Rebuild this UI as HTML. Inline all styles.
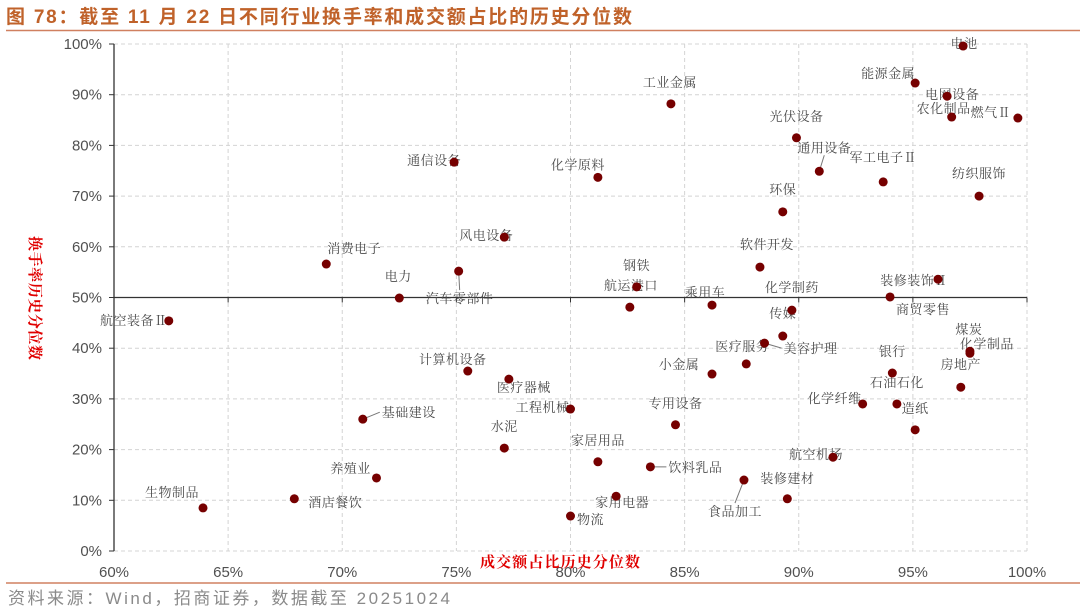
<!DOCTYPE html>
<html><head><meta charset="utf-8"><style>
body{margin:0;background:#fff;width:1080px;height:613px;overflow:hidden}
svg{display:block}
</style></head><body>
<svg id="c" width="1080" height="613" xmlns="http://www.w3.org/2000/svg">
<text x="6" y="23" fill="#c0622a" font-family="'Liberation Sans','Noto Sans CJK SC',sans-serif" font-size="19" font-weight="bold" textLength="626" lengthAdjust="spacing">图 78：截至 11 月 22 日不同行业换手率和成交额占比的历史分位数</text>
<line x1="6" y1="30.5" x2="1080" y2="30.5" stroke="#d08060" stroke-width="1.5"/>
<line x1="6" y1="583" x2="1080" y2="583" stroke="#d08060" stroke-width="1.5"/>
<text x="8" y="604" fill="#8a8a8a" font-family="'Liberation Sans','Noto Sans CJK SC',sans-serif" font-size="17" textLength="442" lengthAdjust="spacing">资料来源：Wind，招商证券，数据截至 20251024</text>
<g id="grid"></g><g id="axes"></g><g id="leaders"></g><g id="labels"></g><g id="dots"></g>
<text x="480" y="567" fill="#e00000" font-family="'Noto Serif CJK SC',serif" font-size="15" font-weight="bold" textLength="160" lengthAdjust="spacing">成交额占比历史分位数</text>
<text transform="translate(30,236) rotate(90)" fill="#e00000" font-family="'Noto Serif CJK SC',serif" font-size="15" font-weight="bold" textLength="124" lengthAdjust="spacing">换手率历史分位数</text>
</svg>
<script>
const names=["通信设备","风电设备","消费电子","电力","汽车零部件","电池","能源金属","电网设备","农化制品","燃气Ⅱ","工业金属","光伏设备","通用设备","军工电子Ⅱ","纺织服饰","化学原料","环保","软件开发","钢铁","航运港口","装修装饰Ⅱ","商贸零售","乘用车","化学制药","传媒","航空装备Ⅱ","美容护理","医疗服务","小金属","煤炭","化学制品","银行","房地产","化学纤维","石油石化","造纸","工程机械","专用设备","家居用品","饮料乳品","航空机场","装修建材","食品加工","家用电器","物流","计算机设备","医疗器械","基础建设","水泥","养殖业","酒店餐饮","生物制品"];
const amountPct=[74.9,77.1,69.3,72.5,75.1,97.2,95.1,96.5,96.7,99.6,84.4,89.9,90.9,93.7,97.9,81.2,89.3,88.3,82.9,82.6,96.1,94.0,86.2,89.7,89.3,62.4,88.5,87.7,86.2,97.5,97.5,94.1,97.1,92.8,94.3,95.1,80.0,84.6,81.2,83.5,91.5,89.5,87.6,82.0,80.0,75.5,77.3,70.9,77.1,71.5,67.9,63.9];
const turnoverPct=[76.7,61.9,56.6,49.9,55.2,99.6,92.3,89.7,85.6,85.4,88.2,81.5,74.9,72.8,70.0,73.7,66.9,56.0,52.1,48.1,53.6,50.1,48.5,47.5,42.4,45.4,41.0,36.9,34.9,39.4,39.0,35.1,32.3,29.0,29.0,23.9,28.0,24.9,17.6,16.6,18.5,10.3,14.0,10.8,6.9,35.5,33.9,26.0,20.3,14.4,10.3,8.5];
const xTicks=[60,65,70,75,80,85,90,95,100];
const yTicks=[0,10,20,30,40,50,60,70,80,90,100];
// label offsets (px, style only)
const ldx=[-20,-18,28,-1,1,1,-27,5,-8,-27,-1,0,5,0,0,-20,0,7,0,1,-24,33,-7,0,0,-35,46,-4,-33,-1,17,0,0,-28,0,0,-28,0,0,45,-17,0,-9,6,20,-15,15,46,0,-26,41,-31];
const ldy=[-2,-2,-16,-22,27,-3,-10,-2,-9,-6,-22,-22,-24,-25,-23,-13,-23,-23,-22,-22,1,12,-13,-23,-23,-1,5,-18,-10,-22,-10,-22,-23,-6,-22,-22,-2,-22,-22,0,-3,-21,31,6,3,-12,8,-7,-22,-10,3,-16];
const leader=[0,0,0,0,1,0,0,0,0,0,0,0,1,0,0,0,0,0,0,0,0,0,0,0,0,0,1,0,0,0,0,0,0,0,0,0,0,0,0,1,0,0,1,0,0,0,0,1,0,0,0,0];
const X=v=>114+(v-60)*(1027-114)/40;
const Y=v=>551-v*(551-44)/100;
const NS="http://www.w3.org/2000/svg";
function mk(tag,attrs,parent){const e=document.createElementNS(NS,tag);for(const k in attrs)e.setAttribute(k,attrs[k]);document.getElementById(parent).appendChild(e);return e;}
const TF="'Liberation Sans',sans-serif";
yTicks.forEach(t=>{
  if(t!==50){const g=mk('line',{x1:114,x2:1027,y1:Y(t),y2:Y(t),stroke:'#d4d4d4','stroke-dasharray':'4,3'},'grid');
  
  }
  const l=mk('text',{x:102,y:Y(t)+5,'text-anchor':'end','font-family':TF,'font-size':15,fill:'#505050'},'axes');l.textContent=t+'%';
  
  
  const tk=mk('line',{x1:109,x2:114,y1:Y(t),y2:Y(t),stroke:'#333'},'axes');
  
  
});
xTicks.forEach(t=>{
  if(t!==60){const g=mk('line',{x1:X(t),x2:X(t),y1:44,y2:551,stroke:'#d4d4d4','stroke-dasharray':'4,3'},'grid');
  
  }
  const l=mk('text',{x:X(t),y:577,'text-anchor':'middle','font-family':TF,'font-size':15,fill:'#505050'},'axes');l.textContent=t+'%';
  
  
  const tk=mk('line',{x1:X(t),x2:X(t),y1:Y(50),y2:Y(50)+5,stroke:'#333'},'axes');
  
  
});
const ya=mk('line',{x1:114,x2:114,y1:44,y2:551,stroke:'#333','stroke-width':1.3},'axes');


const xa=mk('line',{x1:114,x2:1027,y1:Y(50),y2:Y(50),stroke:'#333','stroke-width':1.3},'axes');


names.forEach((n,i)=>{
  const px=X(amountPct[i]),py=Y(turnoverPct[i]);
  const lx=px+ldx[i],ly=py+ldy[i];
  const hw=n.length*6.5;
  if(leader[i]){
    let ex=lx,ey=ly;
    if(Math.abs(ldx[i])>Math.abs(ldy[i])){ex=lx-Math.sign(ldx[i])*(hw+3);}else{ey=ly-Math.sign(ldy[i])*8;}
    const ln=mk('line',{x1:px,y1:py,x2:ex,y2:ey,stroke:'#777','stroke-width':1},'leaders');
    
    
  }
  const t=mk('text',{x:lx,y:ly+5,'text-anchor':'middle','font-family':"'Noto Serif CJK SC','Liberation Serif',serif",'font-size':13,fill:'#4a4a4a','letter-spacing':'0.5'},'labels');
  t.textContent=n;
  
  
  const c=mk('circle',{cx:px,cy:py,r:4.5,fill:'#760000'},'dots');
  
  
});
</script>
</body></html>
